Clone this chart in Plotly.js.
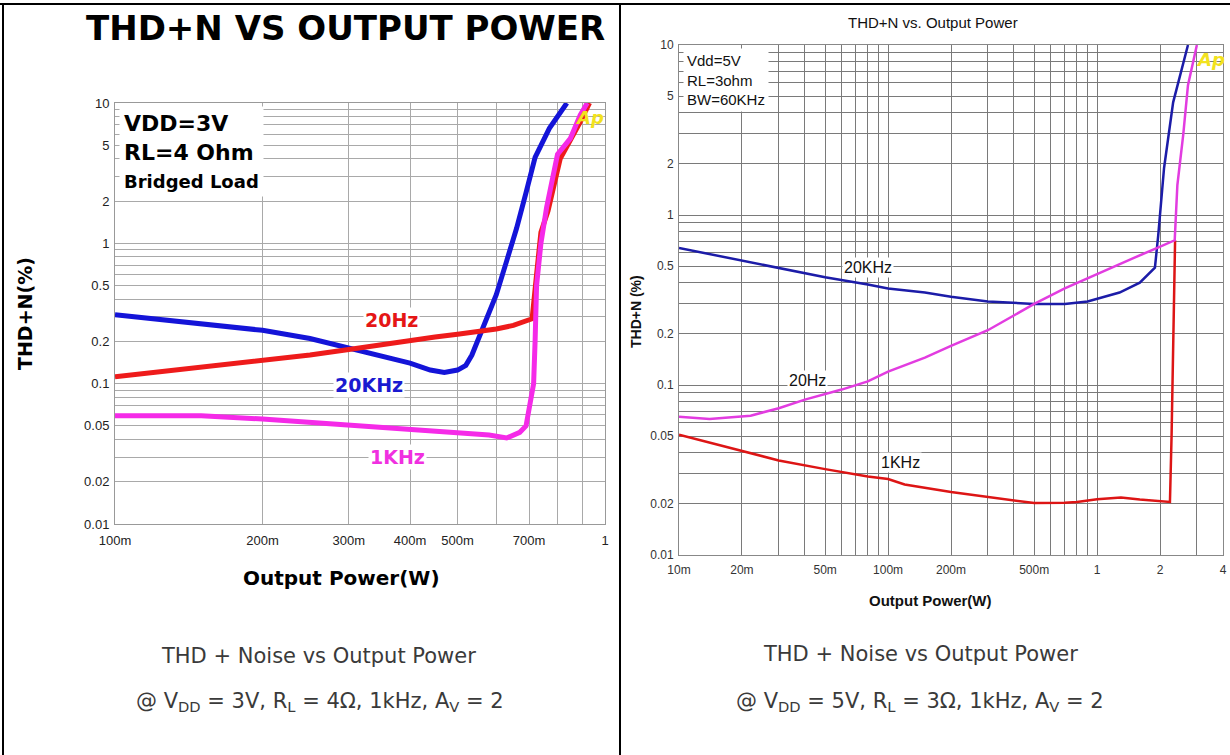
<!DOCTYPE html>
<html>
<head>
<meta charset="utf-8">
<script src="https://cdn.plot.ly/plotly-3.0.1.min.js"></script>
<style>html,body{margin:0;padding:0;background:#fff;}#chart{width:1230px;height:755px;}</style>
</head>
<body>
<div id="chart"></div>
<script>
// ---------- Left chart data (VDD=3V, RL=4 Ohm, Bridged Load) ----------
const leftBlue20kX = [0.1, 0.15, 0.2, 0.25, 0.3, 0.35, 0.4, 0.44, 0.47, 0.5, 0.52, 0.535, 0.556, 0.6, 0.63, 0.66, 0.69, 0.72, 0.77, 0.836];
const leftBlue20kY = [0.31, 0.27, 0.24, 0.21, 0.18, 0.16, 0.14, 0.125, 0.12, 0.125, 0.135, 0.16, 0.22, 0.43, 0.75, 1.28, 2.3, 4.1, 6.6, 10];
const leftRed20X = [0.1, 0.15, 0.2, 0.25, 0.3, 0.35, 0.4, 0.45, 0.5, 0.55, 0.6, 0.65, 0.71, 0.725, 0.74, 0.765, 0.81, 0.89, 0.93];
const leftRed20Y = [0.112, 0.13, 0.145, 0.16, 0.175, 0.19, 0.2, 0.215, 0.225, 0.235, 0.245, 0.26, 0.29, 0.6, 1.2, 1.7, 4.0, 7.3, 10];
const leftMag1kX = [0.1, 0.15, 0.2, 0.3, 0.4, 0.5, 0.58, 0.63, 0.67, 0.69, 0.715, 0.72, 0.725, 0.74, 0.76, 0.8, 0.85, 0.89, 0.92];
const leftMag1kY = [0.059, 0.059, 0.056, 0.051, 0.047, 0.045, 0.043, 0.041, 0.045, 0.05, 0.1, 0.2, 0.5, 1.0, 1.8, 4.3, 5.6, 8.2, 10];
const leftXTickVals = [0.1, 0.2, 0.3, 0.4, 0.5, 0.6, 0.7, 0.8, 0.9, 1];
const leftXTickText = ['100m', '200m', '300m', '400m', '500m', '', '700m', '', '', '1'];

// ---------- Right chart data (Vdd=5V, RL=3ohm, BW=60KHz) ----------
const rightBlue20kX = [0.01, 0.02, 0.03, 0.05, 0.08, 0.1, 0.15, 0.2, 0.3, 0.5, 0.7, 0.9, 1.28, 1.6, 1.89, 1.96, 2.09, 2.31, 2.72];
const rightBlue20kY = [0.64, 0.54, 0.49, 0.43, 0.39, 0.37, 0.35, 0.33, 0.31, 0.30, 0.30, 0.31, 0.35, 0.40, 0.49, 0.76, 1.89, 4.6, 10];
const rightMag20X = [0.01, 0.014, 0.022, 0.03, 0.04, 0.06, 0.08, 0.1, 0.15, 0.2, 0.3, 0.5, 0.7, 1.0, 1.28, 1.5, 1.94, 2.35, 2.42, 2.58, 2.72, 3.0];
const rightMag20Y = [0.065, 0.063, 0.066, 0.073, 0.082, 0.094, 0.105, 0.12, 0.145, 0.17, 0.21, 0.30, 0.37, 0.45, 0.51, 0.56, 0.64, 0.71, 1.5, 2.95, 5.8, 10];
const rightRed1kX = [0.01, 0.02, 0.03, 0.05, 0.08, 0.1, 0.12, 0.2, 0.3, 0.4, 0.5, 0.7, 0.8, 1.0, 1.3, 1.6, 2.0, 2.23, 2.27, 2.33, 2.36];
const rightRed1kY = [0.051, 0.041, 0.036, 0.032, 0.029, 0.028, 0.026, 0.0235, 0.022, 0.021, 0.0202, 0.0203, 0.0205, 0.0213, 0.0218, 0.0212, 0.0208, 0.0205, 0.05, 0.3, 0.71];
const rightXTickVals = [0.01, 0.02, 0.03, 0.04, 0.05, 0.06, 0.07, 0.08, 0.09, 0.1, 0.2, 0.3, 0.4, 0.5, 0.6, 0.7, 0.8, 0.9, 1, 2, 3, 4];
const rightXTickText = ['10m', '20m', '', '', '50m', '', '', '', '', '100m', '200m', '', '', '500m', '', '', '', '', '1', '2', '', '4'];

// ---------- Shared Y grid / ticks ----------
const yTickVals = [0.01, 0.02, 0.03, 0.04, 0.05, 0.06, 0.07, 0.08, 0.09, 0.1, 0.2, 0.3, 0.4, 0.5, 0.6, 0.7, 0.8, 0.9, 1, 2, 3, 4, 5, 6, 7, 8, 9, 10];
const yTickText = ['0.01', '0.02', '', '', '0.05', '', '', '', '', '0.1', '0.2', '', '', '0.5', '', '', '', '', '1', '2', '', '', '5', '', '', '', '', '10'];

const W = 1230, H = 755;
const px = v => v / W;
const py = v => 1 - v / H;

const traces = [
  {x: leftBlue20kX, y: leftBlue20kY, xaxis: 'x', yaxis: 'y', mode: 'lines', line: {color: '#1414d8', width: 5}, hoverinfo: 'skip'},
  {x: leftRed20X, y: leftRed20Y, xaxis: 'x', yaxis: 'y', mode: 'lines', line: {color: '#ee1b1b', width: 5}, hoverinfo: 'skip'},
  {x: leftMag1kX, y: leftMag1kY, xaxis: 'x', yaxis: 'y', mode: 'lines', line: {color: '#f52ae8', width: 5}, hoverinfo: 'skip'},
  {x: rightRed1kX, y: rightRed1kY, xaxis: 'x2', yaxis: 'y2', mode: 'lines', line: {color: '#dd1515', width: 2.5}, hoverinfo: 'skip'},
  {x: rightBlue20kX, y: rightBlue20kY, xaxis: 'x2', yaxis: 'y2', mode: 'lines', line: {color: '#1c1ca8', width: 2.5}, hoverinfo: 'skip'},
  {x: rightMag20X, y: rightMag20Y, xaxis: 'x2', yaxis: 'y2', mode: 'lines', line: {color: '#e23ce0', width: 2.5}, hoverinfo: 'skip'}
];

const leftTickFont = {family: 'Liberation Sans, Arial, sans-serif', size: 13, color: '#222'};
const narrow = 'Liberation Sans Narrow, Arial Narrow, Liberation Sans, sans-serif';
const rightTickFont = {family: narrow, size: 12, color: '#333'};

const axisCommon = {type: 'log', showgrid: true, gridwidth: 1, zeroline: false, showline: true, mirror: true, ticks: '', tickmode: 'array', fixedrange: true};

const layout = {
  width: W, height: H,
  margin: {l: 0, r: 0, t: 0, b: 0},
  paper_bgcolor: '#ffffff',
  plot_bgcolor: '#ffffff',
  showlegend: false,
  xaxis: Object.assign({}, axisCommon, {
    domain: [px(115), px(605)], range: [-1, 0], anchor: 'y',
    tickvals: leftXTickVals, ticktext: leftXTickText,
    gridcolor: '#a9a9a9', linecolor: '#999', tickfont: leftTickFont, ticklabelstandoff: 4
  }),
  yaxis: Object.assign({}, axisCommon, {
    domain: [py(524), py(103)], range: [-2, 1], anchor: 'x',
    tickvals: yTickVals, ticktext: yTickText,
    gridcolor: '#a9a9a9', linecolor: '#999', tickfont: leftTickFont, ticklabelstandoff: 2
  }),
  xaxis2: Object.assign({}, axisCommon, {
    domain: [px(679), px(1223)], range: [-2, Math.log10(4)], anchor: 'y2',
    tickvals: rightXTickVals, ticktext: rightXTickText,
    gridcolor: '#7a7a7a', linecolor: '#888', tickfont: rightTickFont, ticklabelstandoff: 4
  }),
  yaxis2: Object.assign({}, axisCommon, {
    domain: [py(555), py(45)], range: [-2, 1], anchor: 'x2',
    tickvals: yTickVals, ticktext: yTickText,
    gridcolor: '#7a7a7a', linecolor: '#888', tickfont: rightTickFont, ticklabelstandoff: 2
  }),
  shapes: [
    {type: 'line', xref: 'paper', yref: 'paper', x0: 0, x1: 1, y0: py(4), y1: py(4), line: {color: '#000', width: 2}},
    {type: 'line', xref: 'paper', yref: 'paper', x0: px(3), x1: px(3), y0: py(4), y1: 0, line: {color: '#000', width: 2}},
    {type: 'line', xref: 'paper', yref: 'paper', x0: px(620), x1: px(620), y0: py(4), y1: 0, line: {color: '#000', width: 2}}
  ],
  annotations: []
};

const A = layout.annotations;
function ann(o) { A.push(Object.assign({xref: 'paper', yref: 'paper', showarrow: false, xanchor: 'center', yanchor: 'middle'}, o)); }

const capFont = {family: 'DejaVu Sans, sans-serif', size: 21, color: '#3a3a3a'};

// Left chart texts
ann({x: px(345), y: py(28), text: 'THD+N VS OUTPUT POWER', font: {family: 'DejaVu Sans, sans-serif', size: 34, color: '#000', weight: 'bold'}});
ann({x: px(25), y: py(314), text: 'THD+N(%)', textangle: -90, font: {family: 'DejaVu Sans, sans-serif', size: 19, color: '#000', weight: 'bold'}});
ann({x: px(341), y: py(578), text: 'Output Power(W)', font: {family: 'DejaVu Sans, sans-serif', size: 20, color: '#000', weight: 'bold'}});
ann({x: px(119), y: py(106), xanchor: 'left', yanchor: 'top', align: 'left', bgcolor: '#ffffff', borderpad: 4,
     text: 'VDD=3V<br>RL=4 Ohm<br><span style="font-size:18px">Bridged Load</span>',
     font: {family: 'DejaVu Sans, sans-serif', size: 22, color: '#000', weight: 'bold'}});
ann({x: px(391), y: py(320), text: '20Hz', bgcolor: '#ffffff', font: {family: 'DejaVu Sans, sans-serif', size: 19, color: '#e51616', weight: 'bold'}});
ann({x: px(369), y: py(385), text: '20KHz', bgcolor: '#ffffff', font: {family: 'DejaVu Sans, sans-serif', size: 19, color: '#1a1ad0', weight: 'bold'}});
ann({x: px(398), y: py(457), text: '1KHz', bgcolor: '#ffffff', font: {family: 'DejaVu Sans, sans-serif', size: 19, color: '#f030e0', weight: 'bold'}});
ann({x: px(589), y: py(117), text: '<i>Ap</i>', font: {family: 'DejaVu Sans, sans-serif', size: 18, color: '#f2e21e', weight: 'bold'}});
ann({x: px(318), y: py(656), text: 'THD + Noise vs Output Power', font: capFont});
ann({x: px(320), y: py(702), text: '@ V<sub>DD</sub> = 3V, R<sub>L</sub> = 4Ω, 1kHz, A<sub>V</sub> = 2', font: capFont});

// Right chart texts
ann({x: px(933), y: py(22), text: 'THD+N vs. Output Power', font: {family: narrow, size: 15, color: '#111'}});
ann({x: px(636), y: py(312), text: 'THD+N (%)', textangle: -90, font: {family: narrow, size: 14, color: '#111', weight: 'bold'}});
ann({x: px(930), y: py(600), text: 'Output Power(W)', font: {family: narrow, size: 15, color: '#111', weight: 'bold'}});
ann({x: px(683), y: py(48), xanchor: 'left', yanchor: 'top', align: 'left', bgcolor: '#ffffff', borderpad: 3,
     text: 'Vdd=5V<br>RL=3ohm<br>BW=60KHz', font: {family: narrow, size: 15, color: '#111'}});
ann({x: px(868), y: py(267), text: '20KHz', bgcolor: '#ffffff', font: {family: narrow, size: 16, color: '#111'}});
ann({x: px(807), y: py(380), text: '20Hz', bgcolor: '#ffffff', font: {family: narrow, size: 16, color: '#111'}});
ann({x: px(900), y: py(462), text: '1KHz', bgcolor: '#ffffff', font: {family: narrow, size: 16, color: '#111'}});
ann({x: px(1210), y: py(60), text: '<i>Ap</i>', font: {family: 'DejaVu Sans, sans-serif', size: 18, color: '#f2e21e', weight: 'bold'}});
ann({x: px(920), y: py(654), text: 'THD + Noise vs Output Power', font: capFont});
ann({x: px(920), y: py(702), text: '@ V<sub>DD</sub> = 5V, R<sub>L</sub> = 3Ω, 1kHz, A<sub>V</sub> = 2', font: capFont});

Plotly.newPlot('chart', traces, layout, {staticPlot: true, displayModeBar: false});
</script>
</body>
</html>
